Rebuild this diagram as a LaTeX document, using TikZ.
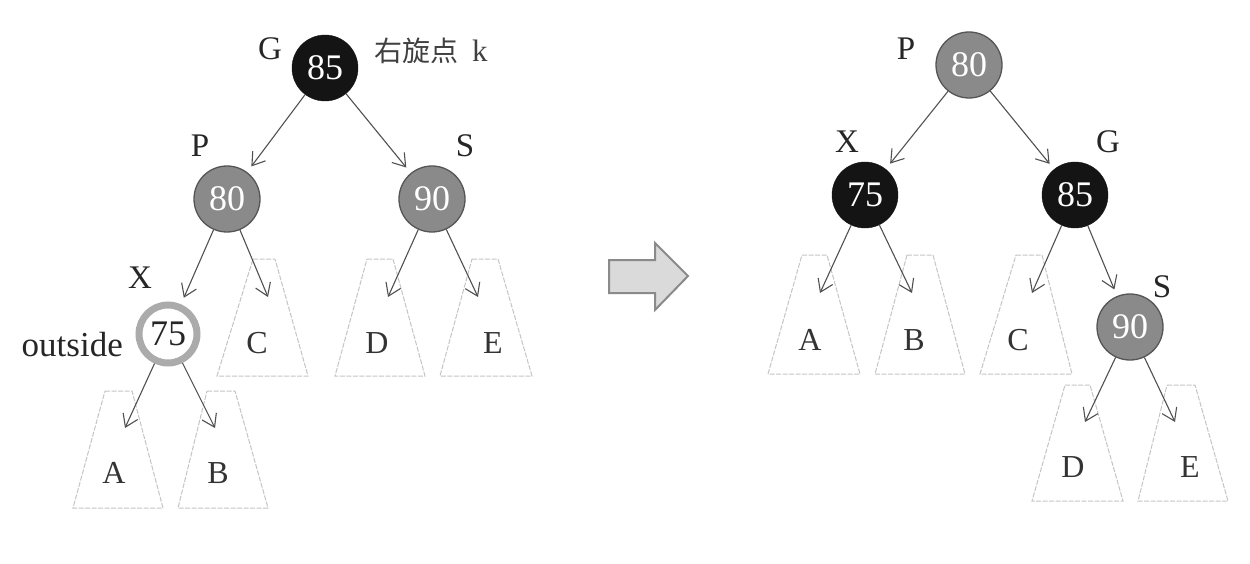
\documentclass[tikz,border=0pt]{standalone}
\usepackage{fontspec}
\setmainfont{Liberation Serif}
\newfontfamily\cjk{Noto Sans CJK SC}
\usetikzlibrary{arrows.meta}
\definecolor{nodegray}{HTML}{8A8A8A}
\definecolor{nodeedge}{HTML}{555555}
\definecolor{nodeblack}{HTML}{141414}
\definecolor{ringgray}{HTML}{ABABAB}
\definecolor{trapgray}{HTML}{C4C4C4}
\definecolor{arrgray}{HTML}{505050}
\definecolor{bigfill}{HTML}{DADADA}
\definecolor{bigedge}{HTML}{8A8A8A}
\tikzset{
  rbnode/.style={circle,minimum size=66pt,inner sep=0pt,font=\fontsize{36}{36}\selectfont},
  blacknode/.style={rbnode,fill=nodeblack,draw=nodeblack,text=white},
  graynode/.style={rbnode,fill=nodegray,draw=nodeedge,line width=1.3pt,text=white},
  ringnode/.style={rbnode,minimum size=58pt,draw=ringgray,line width=7pt,fill=white,text=black!85},
  lbl/.style={inner sep=0pt,font=\fontsize{33}{33}\selectfont,text=black!85},
  leaf/.style={inner sep=0pt,font=\fontsize{32}{32}\selectfont,text=black!80},
  trap/.style={draw=trapgray,line width=1pt,dash pattern=on 5pt off 1.5pt},
  arr/.style={draw=arrgray,line width=1.1pt,-{Straight Barb[length=12pt,width=16pt,line width=1.1pt]}},
  arrn/.style={arr,shorten >=7pt}
}
\begin{document}
\begin{tikzpicture}[x=1pt,y=-1pt]
\useasboundingbox (0,0) rectangle (1250,564);
% ---------- trapezoids ----------
% left tree
\draw[trap] (253,259) -- (275,259) -- (308,376) -- (217,376) -- cycle;
\draw[trap] (367,259) -- (393,259) -- (425,376) -- (335,376) -- cycle;
\draw[trap] (472,259) -- (498,259) -- (532,376) -- (440,376) -- cycle;
\draw[trap] (105,391) -- (132,391) -- (163,508) -- (73,508) -- cycle;
\draw[trap] (207,391) -- (235,391) -- (268,508) -- (178,508) -- cycle;
% right tree
\draw[trap] (802,255) -- (827,255) -- (860,374) -- (768,374) -- cycle;
\draw[trap] (907,255) -- (933,255) -- (965,374) -- (875,374) -- cycle;
\draw[trap] (1016,255) -- (1042,255) -- (1072,374) -- (980,374) -- cycle;
\draw[trap] (1065,385) -- (1090,385) -- (1123,501) -- (1032,501) -- cycle;
\draw[trap] (1167,385) -- (1195,385) -- (1228,501) -- (1138,501) -- cycle;
% ---------- leaf letters ----------
\node[leaf] (lC) at (257,343) {C};
\node[leaf] (lD) at (377,343) {D};
\node[leaf] (lE) at (493,343) {E};
\node[leaf] (lA) at (114,473) {A};
\node[leaf] (lB) at (218,473) {B};
\node[leaf] (rA) at (810,340) {A};
\node[leaf] (rB) at (914,340) {B};
\node[leaf] (rC) at (1018,340) {C};
\node[leaf] (rD) at (1073,467) {D};
\node[leaf] (rE) at (1190,467) {E};
% ---------- arrow tip coordinates ----------
\coordinate (tC) at (268,297);
\coordinate (tD) at (388,297);
\coordinate (tE) at (478,297);
\coordinate (tA) at (125,428);
\coordinate (tB) at (215,428);
\coordinate (uA) at (820,293);
\coordinate (uB) at (912,293);
\coordinate (uC) at (1032,293);
\coordinate (uD) at (1085,422);
\coordinate (uE) at (1175,422);
% ---------- left tree nodes ----------
\node[blacknode] (G) at (325,68) {85};
\node[graynode] (P) at (227,199) {80};
\node[graynode] (S) at (432,199) {90};
\node[ringnode] (X) at (168,334) {75};
\node[lbl] (Gl) at (270,49) {G};
\node[lbl] (Pl) at (200,146) {P};
\node[lbl] (Sl) at (465,146) {S};
\node[lbl] (Xl) at (140,278) {X};
\node[inner sep=0pt,font=\fontsize{35}{35}\selectfont,text=black!85,anchor=east] (out) at (123,345) {outside};
\node[anchor=west,inner sep=0pt,text=black!75] (rot) at (374,51) {\cjk\fontsize{28}{28}\selectfont 右旋点\hspace{14pt}\fontspec{Liberation Serif}\fontsize{31}{31}\selectfont k};
% ---------- right tree nodes ----------
\node[graynode] (P2) at (969,65) {80};
\node[blacknode] (X2) at (865,195) {75};
\node[blacknode] (G2) at (1075,195) {85};
\node[graynode] (S2) at (1130,327) {90};
\node[lbl] (P2l) at (906,49) {P};
\node[lbl] (X2l) at (847,142) {X};
\node[lbl] (G2l) at (1108,142) {G};
\node[lbl] (S2l) at (1162,287) {S};
% ---------- left connectors ----------
\draw[arrn] (G) -- (P);
\draw[arrn] (G) -- (S);
\draw[arrn] (P) -- (X);
\draw[arr] (P) -- (tC);
\draw[arr] (S) -- (tD);
\draw[arr] (S) -- (tE);
\draw[arr] (X) -- (tA);
\draw[arr] (X) -- (tB);
% ---------- right connectors ----------
\draw[arrn] (P2) -- (X2);
\draw[arrn] (P2) -- (G2);
\draw[arr] (X2) -- (uA);
\draw[arr] (X2) -- (uB);
\draw[arr] (G2) -- (uC);
\draw[arrn] (G2) -- (S2);
\draw[arr] (S2) -- (uD);
\draw[arr] (S2) -- (uE);
% ---------- big arrow ----------
\draw[fill=bigfill,draw=bigedge,line width=2pt,line join=miter]
  (609,260) -- (655,260) -- (655,243) -- (688,276) -- (655,310) -- (655,293) -- (609,293) -- cycle;
\end{tikzpicture}
\end{document}
